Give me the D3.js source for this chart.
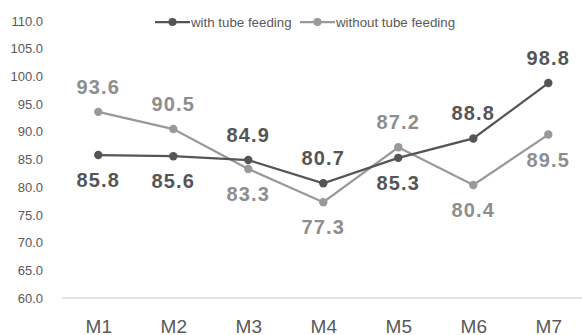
<!DOCTYPE html>
<html><head><meta charset="utf-8">
<script src="https://cdn.jsdelivr.net/npm/d3@7"></script>
<style>body{margin:0;background:#fff}svg{display:block}</style>
</head><body>
<svg id="c" width="582" height="335"></svg>
<script>
const categories = ["M1","M2","M3","M4","M5","M6","M7"];
const withTube = [85.8, 85.6, 84.9, 80.7, 85.3, 88.8, 98.8];
const withoutTube = [93.6, 90.5, 83.3, 77.3, 87.2, 80.4, 89.5];
const withTubePos = ["below","below","above","above","below","above","above"];
const withoutTubePos = ["above","above","below","below","above","below","below"];
const yTicks = [60,65,70,75,80,85,90,95,100,105,110];
const seriesNames = ["with tube feeding","without tube feeding"];

const svg = d3.select("#c");
const x = d3.scalePoint().domain(categories).range([98.3, 548.3]);
const y = d3.scaleLinear().domain([60,110]).range([298, 21]);
const font = "'Liberation Sans', Arial, sans-serif";

// baseline
svg.append("line").attr("x1",62).attr("x2",582).attr("y1",y(60)).attr("y2",y(60))
  .attr("stroke","#d9d9d9").attr("stroke-width",1.5);

// y axis
const yAxis = d3.axisLeft(y).tickValues(yTicks).tickFormat(d3.format(".1f")).tickSize(0).tickPadding(0);
const ya = svg.append("g").attr("transform","translate(43,0)").call(yAxis);
ya.select(".domain").remove();
ya.selectAll("text").attr("font-family",font).attr("font-size",13).attr("fill","#595959");

// x axis
const xAxis = d3.axisBottom(x).tickSize(0).tickPadding(0);
const xa = svg.append("g").call(xAxis);
xa.select(".domain").remove();
xa.selectAll("text").attr("y",333).attr("dy",null).attr("font-family",font).attr("font-size",19).attr("fill","#595959");

const series = [
  {name: seriesNames[0], vals: withTube, pos: withTubePos, line:"#555555", label:"#555555"},
  {name: seriesNames[1], vals: withoutTube, pos: withoutTubePos, line:"#999999", label:"#8e8e8e"}
];
const lineGen = d3.line().x((d,i)=>x(categories[i])).y(d=>y(d));

[series[1], series[0]].forEach(s=>{
  svg.append("path").datum(s.vals).attr("d",lineGen).attr("fill","none")
    .attr("stroke",s.line).attr("stroke-width",2.25);
  svg.selectAll(null).data(s.vals).enter().append("circle")
    .attr("cx",(d,i)=>x(categories[i])).attr("cy",d=>y(d)).attr("r",4.2).attr("fill",s.line);
});
series.forEach(s=>{
  svg.selectAll(null).data(s.vals).enter().append("text")
    .attr("x",(d,i)=>x(categories[i]))
    .attr("y",(d,i)=>y(d) + (s.pos[i]==="above" ? -25 : 25))
    .attr("dominant-baseline","central").attr("text-anchor","middle")
    .attr("font-family",font).attr("font-weight","bold").attr("font-size",20)
    .attr("letter-spacing",1.2)
    .attr("fill",s.label).text(d=>d.toFixed(1));
});

// legend
const leg = [{x:155, s:series[0]}, {x:300, s:series[1]}];
leg.forEach(l=>{
  const g = svg.append("g").attr("transform",`translate(${l.x},22)`);
  g.append("line").attr("x1",0).attr("x2",35).attr("y1",0).attr("y2",0).attr("stroke",l.s.line).attr("stroke-width",2.25);
  g.append("circle").attr("cx",17.5).attr("cy",0).attr("r",4).attr("fill",l.s.line);
  g.append("text").attr("x",36).attr("y",0).attr("dominant-baseline","central")
    .attr("font-family",font).attr("font-size",13.3).attr("fill","#595959").text(l.s.name);
});
</script>
</body></html>
